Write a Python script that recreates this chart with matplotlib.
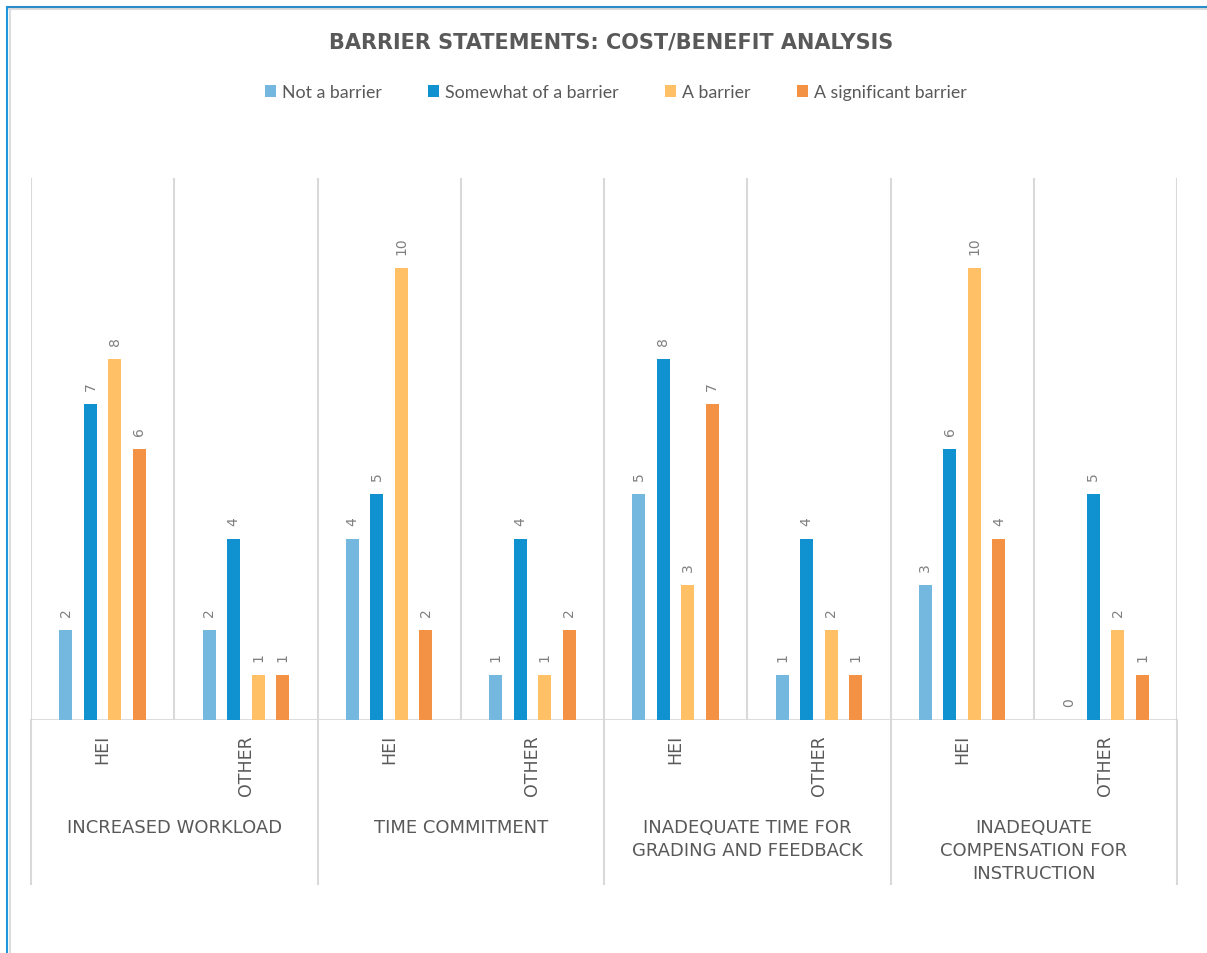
import matplotlib
matplotlib.use("Agg")
import matplotlib.pyplot as plt
from matplotlib.patches import Patch
from matplotlib.lines import Line2D
from matplotlib.transforms import blended_transform_factory

# ---- data ----
title = "BARRIER STATEMENTS: COST/BENEFIT ANALYSIS"
series_names = ["Not a barrier", "Somewhat of a barrier", "A barrier", "A significant barrier"]
series_colors = ["#74B8E0", "#1192D0", "#FFC066", "#F39145"]
statements = ["INCREASED WORKLOAD", "TIME COMMITMENT",
              "INADEQUATE TIME FOR\nGRADING AND FEEDBACK",
              "INADEQUATE\nCOMPENSATION FOR\nINSTRUCTION"]
respondent_types = ["HEI", "OTHER"]
not_a_barrier = [2, 2, 4, 1, 5, 1, 3, 0]
somewhat_of_a_barrier = [7, 4, 5, 4, 8, 4, 6, 5]
a_barrier = [8, 1, 10, 1, 3, 2, 10, 2]
a_significant_barrier = [6, 1, 2, 2, 7, 1, 4, 1]

values = [not_a_barrier, somewhat_of_a_barrier, a_barrier, a_significant_barrier]

W, H = 1207, 954
fig = plt.figure(figsize=(W / 100, H / 100), dpi=100)
fig.patch.set_facecolor("white")

TEXT = "#595959"
GRID = "#D9D9D9"

# plot area
left, right, top, bottom = 31, 1177, 179, 721
ax = fig.add_axes([left / W, 1 - bottom / H, (right - left) / W, (bottom - top) / H])

n_cat = len(not_a_barrier)
positions = list(range(n_cat))
step = 0.171
width = 0.09

for i, (name, vals, col) in enumerate(zip(series_names, values, series_colors)):
    xs = [p + (i - 1.5) * step for p in positions]
    bars = ax.bar(xs, vals, width=width, color=col, label=name, zorder=3)
    ax.bar_label(bars, labels=[str(v) for v in vals], padding=10, rotation=90,
                 color="#7F7F7F", fontsize=10, family="DejaVu Sans")

ax.set_xlim(-0.5, n_cat - 0.5)
ax.set_ylim(0, 12)
for s in ax.spines.values():
    s.set_visible(False)
ax.set_yticks([])

# vertical separators inside the plot area
ax.vlines([k - 0.5 for k in range(n_cat + 1)], 0, 12, colors=GRID, lw=1.5, zorder=1)
ax.axhline(0, color=GRID, lw=2, zorder=2)

# sub-category tick labels
ax.set_xticks(positions)
ax.set_xticklabels(respondent_types * len(statements), rotation=90, va="top",
                   ha="center", color=TEXT, fontsize=12.5, family="DejaVu Sans")
ax.tick_params(axis="x", length=0, pad=10)

# group separators below the axis and group labels
trans = blended_transform_factory(ax.transData, ax.transAxes)
y_low = (bottom - 885) / (bottom - top)
for k in range(len(statements) + 1):
    ax.plot([2 * k - 0.5, 2 * k - 0.5], [0, y_low], transform=trans,
            color=GRID, lw=1.5, clip_on=False, zorder=1)
y_lab = (bottom - 819) / (bottom - top)
for k, lab in enumerate(statements):
    ax.text(2 * k + 0.5, y_lab, lab, transform=trans, ha="center", va="top",
            multialignment="center", color=TEXT, fontsize=13, linespacing=1.36,
            family="DejaVu Sans")

# title
fig.text(611 / W, 1 - 43 / H, title, ha="center", va="center", color=TEXT,
         fontsize=15, fontweight="bold", family="DejaVu Sans")

# legend
handles = [Patch(facecolor=c, edgecolor="none") for c in series_colors]
leg = fig.legend(handles, series_names, loc="center", bbox_to_anchor=(616 / W, 1 - 93 / H),
                 ncol=4, frameon=False, handlelength=0.62, handleheight=0.62,
                 handletextpad=0.35, columnspacing=2.6,
                 prop={"family": "Lato", "size": 12.8})
for t in leg.get_texts():
    t.set_color(TEXT)

# chart frame
def px_line(x0, y0, x1, y1, color, lw):
    fig.add_artist(Line2D([x0 / W, x1 / W], [1 - y0 / H, 1 - y1 / H],
                          transform=fig.transFigure, color=color, lw=lw,
                          solid_capstyle="butt"))

px_line(6, 10, W, 10, "#DCDCDC", 1.5)
px_line(10, 10, 10, H, "#DCDCDC", 1.5)
px_line(6, 7.5, W, 7.5, "#2A8CC8", 1.5)
px_line(6.5, 7, 6.5, H, "#1E96DC", 1.5)

fig.savefig("out.png", dpi=100)
